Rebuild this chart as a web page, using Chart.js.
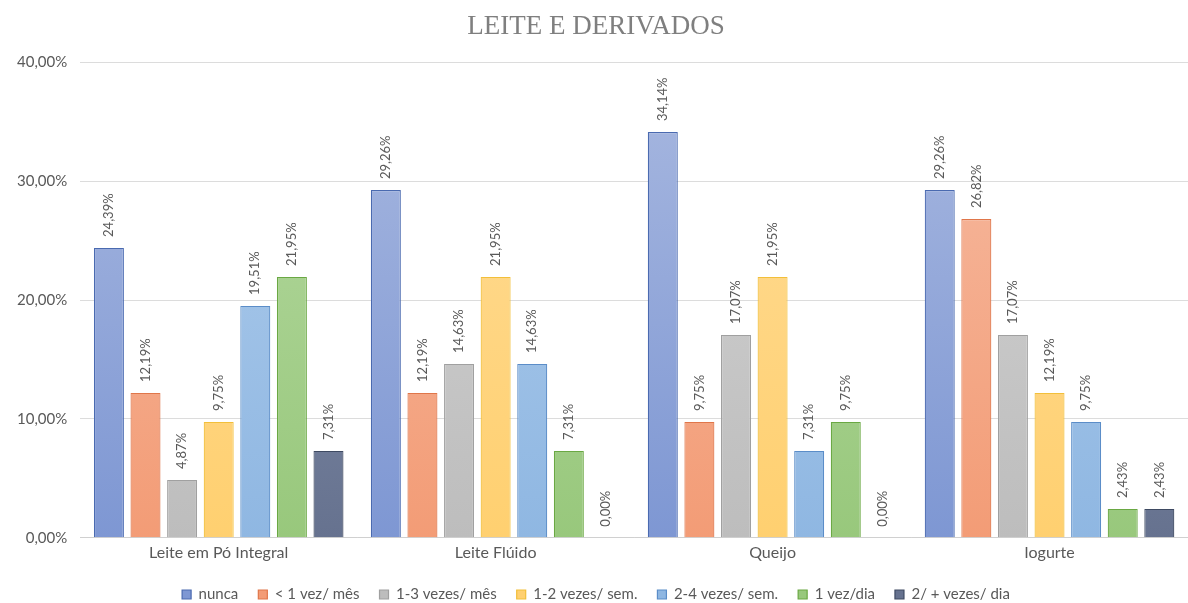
<!DOCTYPE html>
<html>
<head>
<meta charset="utf-8">
<script src="https://cdn.jsdelivr.net/npm/chart.js@4"></script>
<style>
  html, body { margin: 0; padding: 0; background: #fff; }
  #wrap { width: 1188px; height: 603px; }
</style>
</head>
<body>
<div id="wrap"><canvas id="grafico"></canvas></div>
<script>
const categorias = ['Leite em Pó Integral', 'Leite Flúido', 'Queijo', 'Iogurte'];
const nunca = [24.39, 29.26, 34.14, 29.26];
const menos1Mes = [12.19, 12.19, 9.75, 26.82];
const vezes13Mes = [4.87, 14.63, 17.07, 17.07];
const vezes12Sem = [9.75, 21.95, 21.95, 12.19];
const vezes24Sem = [19.51, 14.63, 7.31, 9.75];
const umDia = [21.95, 7.31, 9.75, 2.43];
const doisDia = [7.31, 0, 0, 2.43];

const fmt = v => v.toFixed(2).replace('.', ',') + '%';

function grad(topo, base) {
    return (c) => {
        const area = c.chart.chartArea;
        if (!area) return base;
        const g = c.chart.ctx.createLinearGradient(0, area.top, 0, area.bottom);
        g.addColorStop(0, topo);
        g.addColorStop(1, base);
        return g;
    };
}

function serie(label, data, topo, base, borda) {
    return {
        label: label,
        data: data,
        backgroundColor: grad(topo, base),
        borderColor: borda,
        borderWidth: 1.2,
        barPercentage: 0.82,
        categoryPercentage: 0.925
    };
}

// rotulos verticais em cima das barras
const rotulos = {
    id: 'rotulos',
    afterDatasetsDraw(chart) {
        const ctx = chart.ctx;
        ctx.save();
        ctx.fillStyle = '#595959';
        ctx.font = '13px Lato';
        ctx.textAlign = 'left';
        ctx.textBaseline = 'middle';
        chart.data.datasets.forEach((ds, i) => {
            chart.getDatasetMeta(i).data.forEach((bar, j) => {
                ctx.save();
                ctx.translate(bar.x, bar.y - 11);
                ctx.rotate(-Math.PI / 2);
                ctx.fillText(fmt(ds.data[j]), 0, 0);
                ctx.restore();
            });
        });
        ctx.restore();
    }
};

new Chart(document.getElementById('grafico'), {
    type: 'bar',
    data: {
        labels: categorias,
        datasets: [
            serie('nunca', nunca, '#a8b8e0', '#7e97d3', '#4a6ab0'),
            serie('< 1 vez/ mês', menos1Mes, '#f6bba2', '#f39c76', '#e0764a'),
            serie('1-3 vezes/ mês', vezes13Mes, '#d4d4d4', '#bdbdbd', '#a0a0a0'),
            serie('1-2 vezes/ sem.', vezes12Sem, '#ffdc98', '#ffd070', '#f2bf3a'),
            serie('2-4 vezes/ sem.', vezes24Sem, '#b0cdec', '#8fb7e2', '#5b8dc8'),
            serie('1 vez/dia', umDia, '#b6d9a2', '#98c87c', '#6aa843'),
            serie('2/ + vezes/ dia', doisDia, '#8c98b2', '#66728f', '#3e4a62')
        ]
    },
    options: {
        responsive: true,
        maintainAspectRatio: false,
        animation: false,
        layout: { padding: { left: 4, right: 0, top: 4, bottom: -9 } },
        plugins: {
            title: {
                display: true,
                text: 'LEITE E DERIVADOS',
                color: '#7f7f7f',
                font: { family: 'Liberation Serif', size: 27, weight: 'normal' },
                padding: { top: 7, bottom: 19 }
            },
            legend: {
                position: 'bottom',
                labels: {
                    boxWidth: 9,
                    boxHeight: 9,
                    color: '#595959',
                    font: { family: 'Lato', size: 15 },
                    padding: 20
                }
            },
            tooltip: { enabled: false }
        },
        scales: {
            x: {
                grid: { display: false, drawTicks: false },
                border: { color: '#d0d0d0' },
                ticks: { padding: 5, color: '#595959', font: { family: 'Lato', size: 16 } }
            },
            y: {
                min: 0,
                max: 40,
                border: { display: false },
                grid: { color: '#dcdcdc', drawTicks: false },
                ticks: {
                    stepSize: 10,
                    padding: 13,
                    color: '#595959',
                    font: { family: 'Lato', size: 15 },
                    callback: v => fmt(v)
                }
            }
        }
    },
    plugins: [rotulos]
});
</script>
</body>
</html>
